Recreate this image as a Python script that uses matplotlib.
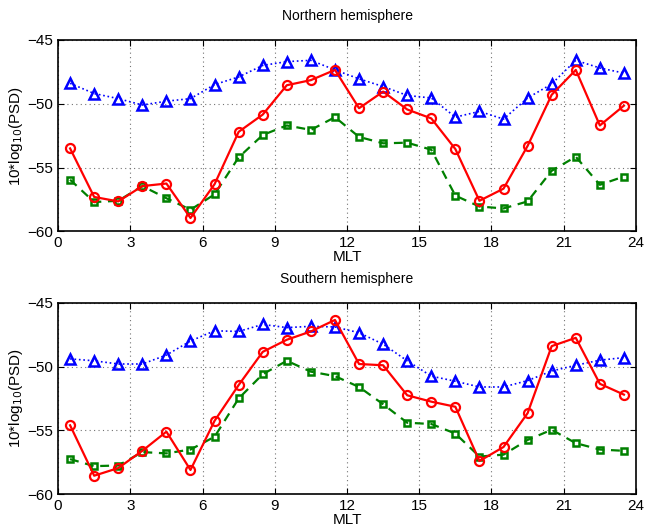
import numpy as np
import matplotlib
matplotlib.use('Agg')
import matplotlib.pyplot as plt

plt.rcParams['font.family'] = ['Liberation Sans', 'DejaVu Sans']

mlt = [0.5, 1.5, 2.5, 3.5, 4.5, 5.5, 6.5, 7.5, 8.5, 9.5, 10.5, 11.5,
       12.5, 13.5, 14.5, 15.5, 16.5, 17.5, 18.5, 19.5, 20.5, 21.5, 22.5, 23.5]

# Northern hemisphere
northBlue = [-48.4, -49.2, -49.6, -50.1, -49.8, -49.6, -48.5, -47.9, -47.0, -46.7, -46.6, -47.35,
             -48.05, -48.65, -49.35, -49.55, -51.05, -50.6, -51.2, -49.55, -48.45, -46.6, -47.2, -47.6]
northRed = [-53.5, -57.3, -57.65, -56.45, -56.25, -58.95, -56.3, -52.2, -50.85, -48.55, -48.15, -47.35,
            -50.35, -49.05, -50.45, -51.15, -53.55, -57.6, -56.65, -53.3, -49.3, -47.35, -51.7, -50.15]
northGreen = [-55.95, -57.7, -57.6, -56.45, -57.4, -58.3, -57.1, -54.2, -52.45, -51.7, -52.05, -51.05,
              -52.6, -53.1, -53.05, -53.6, -57.2, -58.05, -58.2, -57.65, -55.25, -54.15, -56.35, -55.7]

# Southern hemisphere
southBlue = [-49.4, -49.55, -49.8, -49.8, -49.1, -48.0, -47.2, -47.25, -46.7, -46.95, -46.85, -46.9,
             -47.35, -48.25, -49.55, -50.75, -51.15, -51.6, -51.6, -51.1, -50.35, -49.9, -49.5, -49.3]
southRed = [-54.6, -58.55, -57.95, -56.6, -55.1, -58.1, -54.25, -51.45, -48.85, -47.9, -47.25, -46.35,
            -49.8, -49.9, -52.25, -52.75, -53.15, -57.4, -56.3, -53.65, -48.4, -47.75, -51.35, -52.2]
southGreen = [-57.25, -57.8, -57.75, -56.7, -56.8, -56.5, -55.5, -52.5, -50.6, -49.55, -50.4, -50.75,
              -51.6, -52.95, -54.4, -54.5, -55.25, -57.05, -56.9, -55.75, -54.95, -56.0, -56.5, -56.6]

darkGreen = (0, 0.5, 0)

fig = plt.figure(figsize=(6.45, 5.32), dpi=100)
ax1 = fig.add_axes([0.090, 0.565, 0.896, 0.360])
ax2 = fig.add_axes([0.090, 0.071, 0.896, 0.360])


def drawPanel(ax, blue, red, green, title):
    ax.plot(mlt, blue, color='b', linestyle=':', linewidth=1.2, marker='^',
            markersize=6.5, markerfacecolor='none', markeredgewidth=1.8)
    ax.plot(mlt, green, color=darkGreen, linestyle='--', linewidth=1.6, dashes=(4, 3), marker='s',
            markersize=4, markerfacecolor='none', markeredgewidth=1.8)
    ax.plot(mlt, red, color='r', linestyle='-', linewidth=1.6, marker='o',
            markersize=6.5, markerfacecolor='none', markeredgewidth=1.6)
    ax.set_xlim(0, 24)
    ax.set_ylim(-60, -45)
    ax.set_xticks(np.arange(0, 25, 3))
    ax.set_yticks([-60, -55, -50, -45])
    ax.set_yticklabels(['\u221260', '\u221255', '\u221250', '\u221245'])
    ax.grid(True, linestyle=(0, (1, 3)), color='0.45', linewidth=0.8)
    ax.tick_params(direction='in', labelsize=11, length=4, top=True, right=True)
    for s in ax.spines.values():
        s.set_linewidth(1.2)
    ax.set_title(title, fontsize=10, pad=14)
    ax.set_xlabel('MLT', fontsize=11, labelpad=0)
    ax.set_ylabel('10*log$_{10}$(PSD)', fontsize=11, labelpad=2)


drawPanel(ax1, northBlue, northRed, northGreen, 'Northern hemisphere')
drawPanel(ax2, southBlue, southRed, southGreen, 'Southern hemisphere')

plt.savefig('out.png', dpi=100)
